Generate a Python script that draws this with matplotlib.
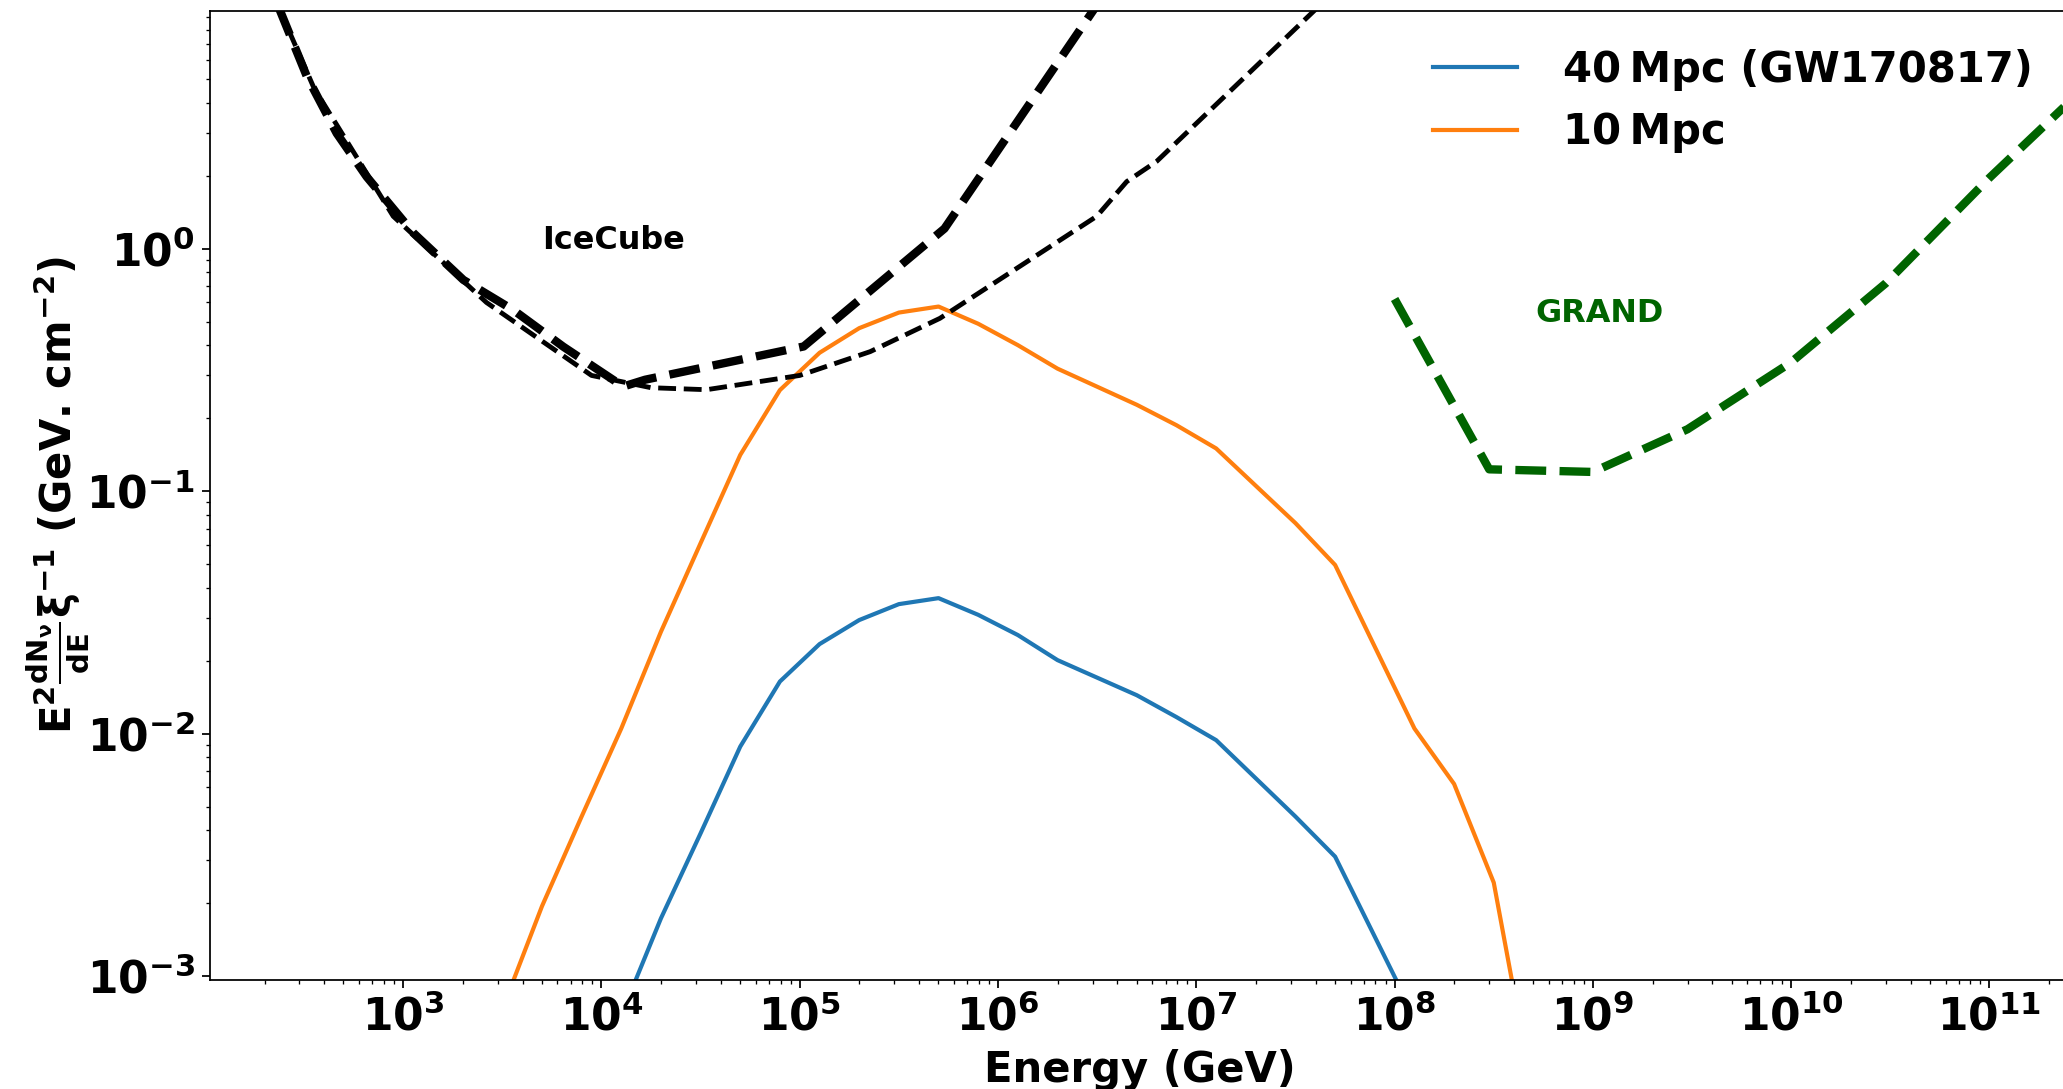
import numpy as np
import matplotlib
matplotlib.use("Agg")
import matplotlib.pyplot as plt

#### DATA ####
# log10(E / GeV) grid and fluxes for the two source distances
log_e_40 = [4.1, 4.3, 4.5, 4.7, 4.9, 5.1, 5.3, 5.5, 5.7, 5.9, 6.1, 6.3,
            6.7, 6.9, 7.1, 7.5, 7.7, 8.1]
flux_40 = [6.9e-4, 1.73e-3, 3.88e-3, 8.84e-3, 1.64e-2, 2.34e-2, 2.94e-2,
           3.42e-2, 3.62e-2, 3.09e-2, 2.55e-2, 2.01e-2, 1.44e-2, 1.17e-2,
           9.4e-3, 4.55e-3, 3.11e-3, 6.8e-4]

log_e_10 = [3.5, 3.7, 3.9, 4.1, 4.3, 4.5, 4.7, 4.9, 5.1, 5.3, 5.5, 5.7,
            5.9, 6.1, 6.3, 6.7, 6.9, 7.1, 7.5, 7.7, 8.1, 8.3, 8.5, 8.7]
flux_10 = [7.3e-4, 1.94e-3, 4.55e-3, 1.05e-2, 2.63e-2, 6.1e-2, 0.141, 0.261,
           0.372, 0.47, 0.545, 0.577, 0.49, 0.40, 0.32, 0.227, 0.187, 0.150,
           0.0738, 0.0496, 0.0105, 6.2e-3, 2.43e-3, 3.2e-4]

# IceCube sensitivity curves
log_e_ic_a = [2.37, 2.514, 2.665, 2.816, 3.052, 3.304, 3.556, 3.808, 4.11,
              4.22, 5.02, 5.73, 6.48, 7.0]
flux_ic_a = [10.0, 5.14, 2.99, 1.98, 1.16, 0.743, 0.558, 0.394, 0.27,
             0.288, 0.395, 1.21, 9.6, 40.5]

log_e_ic_b = [2.37, 2.55, 2.95, 3.42, 3.95, 4.25, 4.53, 5.0, 5.355, 5.707,
              6.498, 6.649, 6.80, 7.59, 8.0]
flux_ic_b = [10.0, 4.6, 1.36, 0.60, 0.30, 0.267, 0.262, 0.30, 0.376, 0.516,
             1.36, 1.89, 2.29, 9.5, 20.0]

# GRAND sensitivity
e_grand = [1e8, 3e8, 1e9, 3e9, 1e10, 3e10, 1e11, 3e11]
flux_grand = [0.62, 0.123, 0.12, 0.18, 0.34, 0.72, 1.96, 4.6]

labels = ["40\u2009Mpc (GW170817)", "10\u2009Mpc"]

##### Matplotlib setup #####
plt.rcParams['font.family'] = ['DejaVu Sans']
plt.rcParams['font.weight'] = 'bold'
plt.rcParams['axes.labelweight'] = 'bold'
plt.rcParams['mathtext.fontset'] = 'dejavusans'

DPI = 158
fig = plt.figure(figsize=(2063 / DPI, 1089 / DPI), dpi=DPI)
ax = fig.add_axes([210 / 2063, 109 / 1089, 1860 / 2063, 969 / 1089])

ax.plot(10 ** np.array(log_e_40), flux_40, color='tab:blue', lw=1.9, label=labels[0])
ax.plot(10 ** np.array(log_e_10), flux_10, color='tab:orange', lw=1.9, label=labels[1])
ax.plot(10 ** np.array(log_e_ic_a), flux_ic_a, 'k--', lw=3.8)
ax.plot(10 ** np.array(log_e_ic_b), flux_ic_b, 'k--', lw=2.2)
ax.plot(e_grand, flux_grand, '--', color='darkgreen', lw=3.8)

ax.text(5e3, 1.0, 'IceCube', fontsize=14.5, fontweight='bold')
ax.text(5.1e8, 0.5, 'GRAND', fontsize=14.5, fontweight='bold', color='darkgreen')

ax.set_xscale('log')
ax.set_yscale('log')
ax.set_xlim(10 ** 2.026, 10 ** 11.406)
ax.set_ylim(10 ** -3.016, 10 ** 0.98)
ax.tick_params(axis='both', which='major', labelsize=20)

ax.set_xlabel('Energy (GeV)', fontsize=19)
ax.set_ylabel(r'$\mathbf{E^{2}\frac{dN_{\nu}}{dE}\xi^{-1}}$ (GeV. cm$^{\mathbf{-2}}$)',
              fontsize=19, labelpad=-2)

ax.legend(loc='upper right', frameon=False, fontsize=19, handletextpad=1.1)

fig.savefig('out.png', dpi=DPI)
